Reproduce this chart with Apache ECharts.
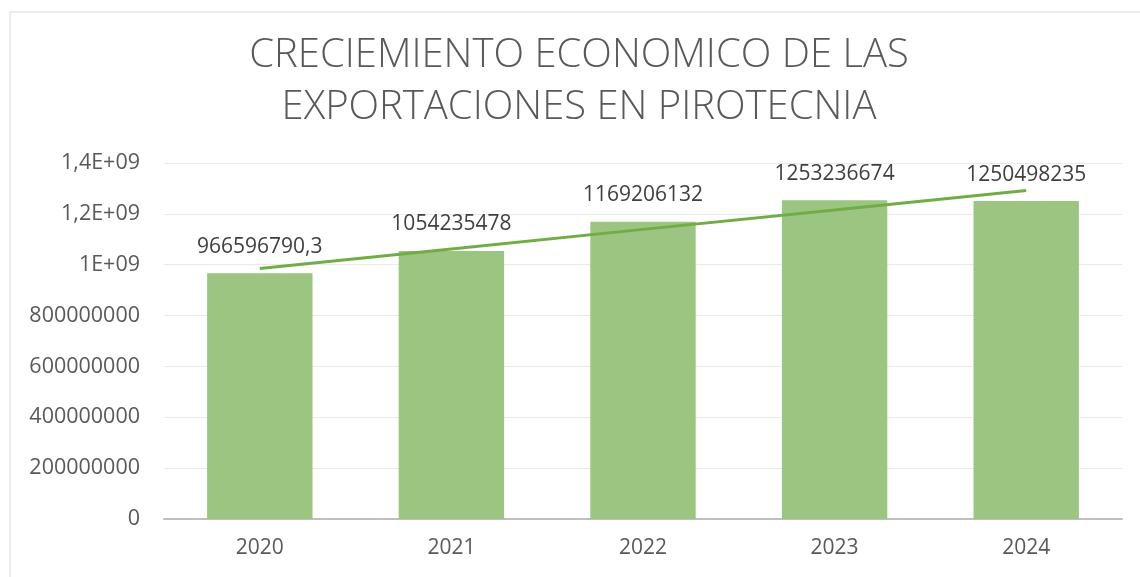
<!DOCTYPE html>
<html lang="es" style="height: 100%">
<head>
  <meta charset="utf-8">
</head>
<body style="height: 100%; margin: 0">
  <div id="container" style="width: 1140px; height: 577px"></div>
  <script type="text/javascript" src="https://fastly.jsdelivr.net/npm/echarts@6/dist/echarts.min.js"></script>
  <script type="text/javascript">
    var years = ['2020', '2021', '2022', '2023', '2024'];
    var exportaciones = [966596790.3, 1054235478, 1169206132, 1253236674, 1250498235];
    // linea de tendencia
    var tendencia = [985000000, 1062000000, 1139000000, 1215000000, 1292000000];
    var yTickLabels = ['0', '200000000', '400000000', '600000000', '800000000', '1E+09', '1,2E+09', '1,4E+09'];

    var dom = document.getElementById('container');
    var myChart = echarts.init(dom, null, { renderer: 'canvas' });

    var option = {
      backgroundColor: '#fff',
      animation: false,
      title: {
        text: 'CRECIEMIENTO ECONOMICO DE LAS\nEXPORTACIONES EN PIROTECNIA',
        left: 574,
        top: 25,
        textAlign: 'center',
        textStyle: {
          fontFamily: 'Open Sans',
          fontWeight: 300,
          fontSize: 40,
          lineHeight: 52,
          color: '#595959'
        }
      },
      graphic: [
        {
          type: 'rect',
          shape: { x: 10, y: 12, width: 1200, height: 700 },
          style: { fill: 'none', stroke: '#d9d9d9', lineWidth: 1 },
          silent: true
        }
      ],
      grid: {
        left: 164,
        right: 18,
        top: 163,
        bottom: 58
      },
      xAxis: {
        type: 'category',
        data: years,
        axisTick: { show: false },
        axisLine: { lineStyle: { color: '#bfbfbf', width: 2 } },
        axisLabel: {
          color: '#595959',
          fontFamily: 'Open Sans',
          fontSize: 21,
          margin: 19
        }
      },
      yAxis: {
        type: 'value',
        min: 0,
        max: 1400000000,
        interval: 200000000,
        axisLine: { show: false },
        axisTick: { show: false },
        splitLine: { lineStyle: { color: '#e9e9e9', width: 1 } },
        axisLabel: {
          color: '#595959',
          fontFamily: 'Open Sans',
          fontSize: 21.5,
          margin: 24,
          formatter: function (v) {
            return yTickLabels[Math.round(v / 200000000)];
          }
        }
      },
      series: [
        {
          type: 'bar',
          data: exportaciones,
          barWidth: '55%',
          itemStyle: { color: '#9cc581' },
          label: {
            show: true,
            position: 'top',
            distance: 16,
            color: '#404040',
            fontFamily: 'Open Sans',
            fontSize: 21,
            formatter: function (p) {
              return String(p.value).replace('.', ',');
            }
          },
          z: 2
        },
        {
          type: 'line',
          data: tendencia,
          symbol: 'none',
          lineStyle: { color: '#70ad47', width: 3 },
          z: 3
        }
      ]
    };

    myChart.setOption(option);
    window.addEventListener('resize', myChart.resize);
  </script>
</body>
</html>
